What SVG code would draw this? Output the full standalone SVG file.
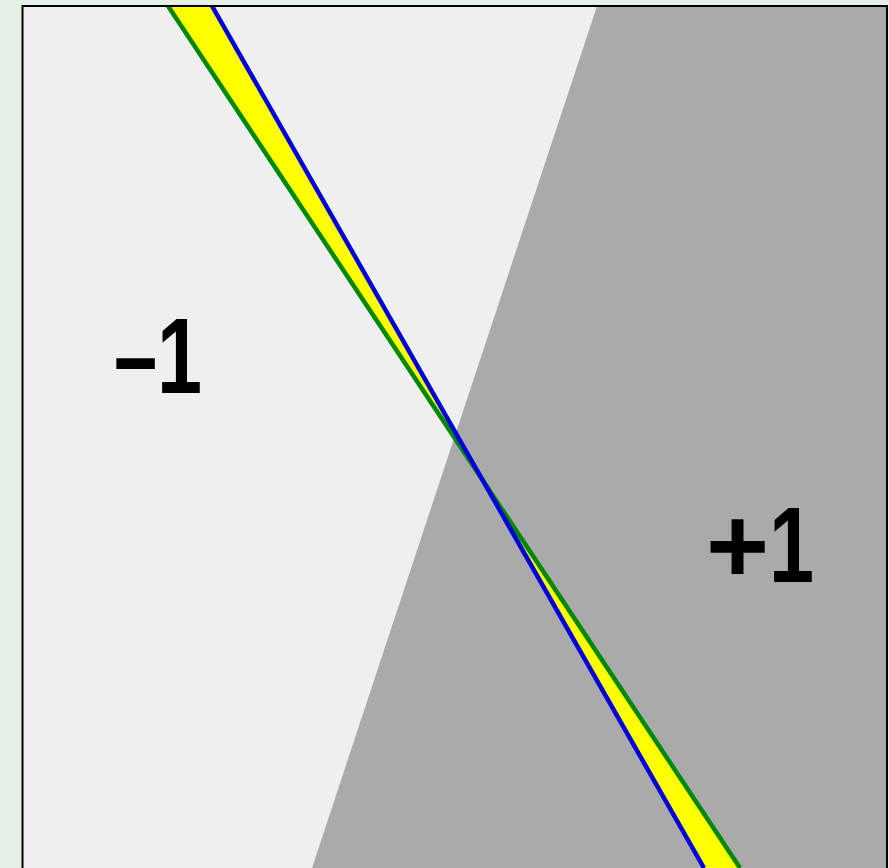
<svg xmlns="http://www.w3.org/2000/svg" width="889" height="868" viewBox="0 0 889 868">
<style>
.lbl{font-family:"Liberation Sans",Arial,sans-serif;font-weight:bold;font-size:108px;fill:#000}
</style>
<defs><clipPath id="c"><rect x="22.5" y="6" width="864.5" height="870"/></clipPath></defs>
<rect width="889" height="868" fill="#e6f0e6"/>
<g id="plane" clip-path="url(#c)">
<rect x="22.5" y="6" width="864.5" height="870" fill="#efefef"/>
<polygon id="positive-region" points="597,6 889,6 889,868 312,868" fill="#aaaaaa"/>
<polygon id="band" points="168,6 212,6 704,868 740,868" fill="#ffff00"/>
</g>
<g id="connectors" clip-path="url(#c)" fill="none" stroke-width="4.5">
<line x1="168" y1="6" x2="740" y2="868" stroke="#008800"/>
<line x1="212" y1="6" x2="704" y2="868" stroke="#0000dd"/>
</g>
<rect x="22.5" y="6" width="864.5" height="880" fill="none" stroke="#000" stroke-width="2"/>
<g id="label-neg"><text class="lbl" transform="translate(114,393) scale(0.72,1)" x="0" y="0">–</text><text class="lbl" transform="translate(202,393) scale(0.75,1)" x="0" y="0" text-anchor="end">1</text></g>
<g id="label-pos"><text class="lbl" x="706" y="582">+</text><text class="lbl" transform="translate(814,582) scale(0.75,1)" x="0" y="0" text-anchor="end">1</text></g>
</svg>
